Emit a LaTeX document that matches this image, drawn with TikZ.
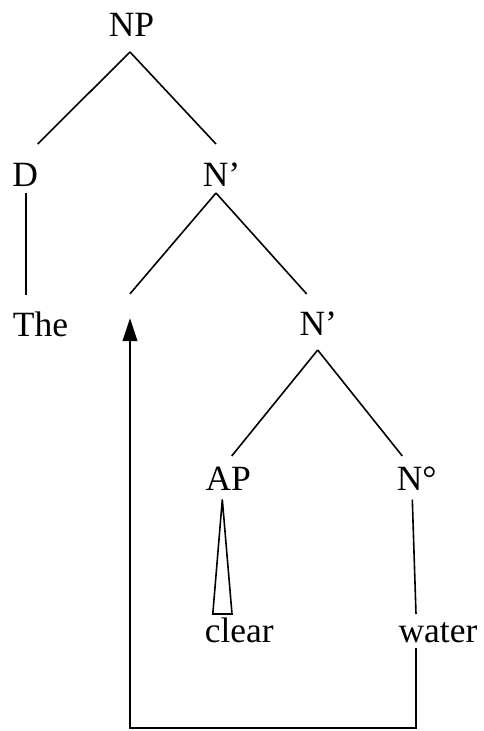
\documentclass[tikz,border=0pt]{standalone}
\usepackage{fontspec}
\setmainfont{Liberation Serif}
\usepackage{tikz}
\usetikzlibrary{arrows.meta,calc}

\begin{document}
\begin{tikzpicture}[x=1pt,y=-1pt,
	lab/.style={anchor=base,inner sep=0pt,font=\fontsize{35.5}{42}\selectfont},
	branch/.style={line width=1.6pt},
	move/.style={line width=2.4pt,-{Triangle[length=23pt,width=14.6pt]}}]
	\useasboundingbox (0,0) rectangle (483,731);
	%
	% labels
	\node[lab] (np) at (131.5,36) {NP};
	\node[lab] (d) at (25.2,186) {D};
	\node[lab] (nbar) at (221.5,186) {N’};
	\node[lab] (the) at (40.5,336.7) {The};
	\node[inner sep=12pt] (gap) at (130,306) {};
	\node[lab] (nbarb) at (318.3,335) {N’};
	\node[lab] (ap) at (228.3,490) {AP};
	\node[lab] (nzero) at (416.7,490) {N°};
	\node[lab] (clear) at (239.3,642.7) {clear};
	\node[lab] (water) at (438,642) {water};
	%
	% branches
	\draw[branch] ([shift={(-1.5,16)}]np.base) -- ([shift={(12.5,-42)}]d.base);
	\draw[branch] ([shift={(-1.5,16)}]np.base) -- ([shift={(-5.5,-42)}]nbar.base);
	\draw[branch] ([shift={(1,7)}]d.base) -- ([shift={(1,-42)}]the.base -| d.base);
	\draw[branch] ([shift={(-5.5,7)}]nbar.base) -- (gap.north);
	\draw[branch] ([shift={(-5.5,7)}]nbar.base) -- ([shift={(-11.6,-41)}]nbarb.base);
	\draw[branch] ([shift={(-0.6,15)}]nbarb.base) -- ([shift={(3.4,-34)}]ap.base);
	\draw[branch] ([shift={(-0.6,15)}]nbarb.base) -- ([shift={(-14.4,-34)}]nzero.base);
	\draw[branch] ([shift={(-4.4,9.5)}]nzero.base) -- ([shift={(-22,-28)}]water.base);
	% triangle
	\draw[branch,line join=miter] ([shift={(-6,9.5)}]ap.base) -- ([shift={(-26.5,-28.7)}]clear.base)
		-- ([shift={(-7.3,-28.7)}]clear.base) -- cycle;
	%
	% movement
	\draw[move] ([shift={(-22,6)}]water.base) -- ++(0,80) -| (gap.south);
\end{tikzpicture}
\end{document}
